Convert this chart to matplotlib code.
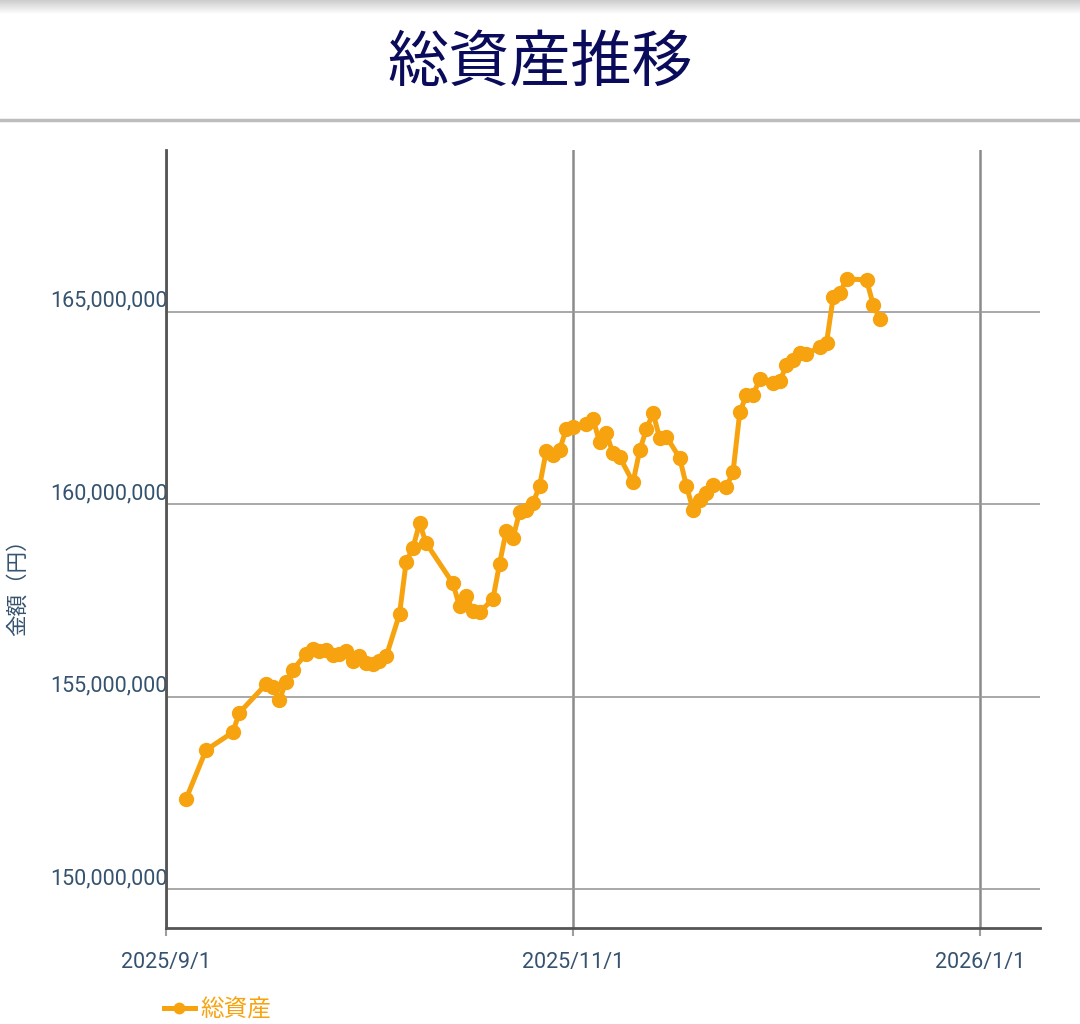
import matplotlib
matplotlib.use('Agg')
import matplotlib.pyplot as plt
import numpy as np
import pandas as pd
from matplotlib.lines import Line2D

plt.rcParams['font.family'] = ['Noto Sans CJK JP', 'DejaVu Sans']

orange = '#F7A30F'
navy = '#0B0B5C'
slate = '#35526F'

# data (yen)
dates = ['2025-09-04', '2025-09-07', '2025-09-11', '2025-09-12', '2025-09-16',
         '2025-09-17', '2025-09-18', '2025-09-19', '2025-09-20', '2025-09-22',
         '2025-09-23', '2025-09-24', '2025-09-25', '2025-09-26', '2025-09-27',
         '2025-09-28', '2025-09-29', '2025-09-30', '2025-10-01', '2025-10-02',
         '2025-10-03', '2025-10-04', '2025-10-06', '2025-10-07', '2025-10-08',
         '2025-10-09', '2025-10-10', '2025-10-14', '2025-10-15', '2025-10-16',
         '2025-10-17', '2025-10-18', '2025-10-20', '2025-10-21', '2025-10-22',
         '2025-10-23', '2025-10-24', '2025-10-25', '2025-10-26', '2025-10-27',
         '2025-10-28', '2025-10-29', '2025-10-30', '2025-10-31', '2025-11-01',
         '2025-11-03', '2025-11-04', '2025-11-05', '2025-11-06', '2025-11-07',
         '2025-11-08', '2025-11-10', '2025-11-11', '2025-11-12', '2025-11-13',
         '2025-11-14', '2025-11-15', '2025-11-17', '2025-11-18', '2025-11-19',
         '2025-11-20', '2025-11-21', '2025-11-22', '2025-11-24', '2025-11-25',
         '2025-11-26', '2025-11-27', '2025-11-28', '2025-11-29', '2025-12-01',
         '2025-12-02', '2025-12-03', '2025-12-04', '2025-12-05', '2025-12-06',
         '2025-12-08', '2025-12-09', '2025-12-10', '2025-12-11', '2025-12-12',
         '2025-12-15', '2025-12-16', '2025-12-17']
total_m = [152.35, 153.62, 154.08, 154.59, 155.33,
           155.27, 154.92, 155.40, 155.70, 156.12,
           156.25, 156.20, 156.22, 156.09, 156.12,
           156.20, 155.92, 156.07, 155.88, 155.86,
           155.94, 156.05, 157.15, 158.51, 158.86,
           159.51, 158.99, 157.95, 157.35, 157.62,
           157.24, 157.20, 157.54, 158.46, 159.32,
           159.12, 159.80, 159.84, 160.03, 160.48,
           161.39, 161.29, 161.42, 161.96, 162.01,
           162.09, 162.22, 161.61, 161.85, 161.32,
           161.23, 160.57, 161.40, 161.95, 162.37,
           161.72, 161.76, 161.20, 160.48, 159.86,
           160.12, 160.29, 160.51, 160.45, 160.85,
           162.39, 162.84, 162.85, 163.25, 163.16,
           163.19, 163.62, 163.75, 163.94, 163.91,
           164.08, 164.19, 165.38, 165.49, 165.85,
           165.83, 165.18, 164.81]

xticks = ['2025-09-01', '2025-11-01', '2026-01-01']
xtick_labels = ['2025/9/1', '2025/11/1', '2026/1/1']
yticks = [150e6, 155e6, 160e6, 165e6]

x = pd.to_datetime(dates)
y = np.array(total_m) * 1e6

fig = plt.figure(figsize=(10.8, 10.24), dpi=100)
fig.patch.set_facecolor('white')

# header: soft shadow at top + separator line + title
shade = fig.add_axes([0, 1 - 14 / 1024, 1, 14 / 1024])
grad = np.linspace(0.80, 1.0, 50).reshape(-1, 1)
shade.imshow(np.dstack([grad, grad, grad]), aspect='auto', extent=[0, 1, 0, 1])
shade.axis('off')
fig.add_artist(Line2D([0, 1], [1 - 119.5 / 1024] * 2, color='#BDBDBD', lw=2.5))
fig.text(0.5, 1 - 64 / 1024, '総資産推移', ha='center', va='center',
         fontsize=44, color=navy, fontweight='normal')

ax = fig.add_axes([166 / 1080, 96 / 1024, 874 / 1080, 778 / 1024])
ax.plot(x, y, color=orange, lw=3.6, marker='o', ms=10, mec=orange, mfc=orange,
        label='総資産', zorder=3, solid_joinstyle='round')

ax.set_xlim(pd.Timestamp('2025-09-01'), pd.Timestamp('2026-01-10'))
ax.set_ylim(149.0e6, 169.2e6)

num_font = ['Roboto', 'DejaVu Sans']
ax.set_xticks(pd.to_datetime(xticks))
ax.set_xticklabels(xtick_labels, fontsize=15.5, color=slate, family=num_font)
ax.set_yticks(yticks)
ax.set_yticklabels(['{:,.0f}'.format(v) for v in yticks], fontsize=15.5, color=slate,
                   family=num_font)
for lab in ax.get_yticklabels():
    lab.set_va('bottom')
ax.tick_params(axis='y', length=0, pad=-1)
ax.tick_params(axis='x', length=6, width=1.5, color='#9E9E9E', pad=11)

ax.grid(axis='y', color='#9A9A9A', lw=1.2)
ax.grid(axis='x', color='#8A8A8A', lw=1.8)
ax.set_axisbelow(True)
for side in ['top', 'right']:
    ax.spines[side].set_visible(False)
for side in ['left', 'bottom']:
    ax.spines[side].set_color('#555555')
    ax.spines[side].set_linewidth(2)

fig.text(18 / 1080, 1 - 582 / 1024, '金額（円）', rotation=90, ha='center', va='center',
         fontsize=15.5, color=slate)

leg = fig.legend(loc='center left', bbox_to_anchor=(164 / 1080, 14 / 1024), frameon=False,
                 borderaxespad=0, borderpad=0, handlelength=1.3, handletextpad=0.25,
                 markerscale=0.75, fontsize=17)
for t in leg.get_texts():
    t.set_color(orange)

plt.savefig('out.png', dpi=100, facecolor='white')
